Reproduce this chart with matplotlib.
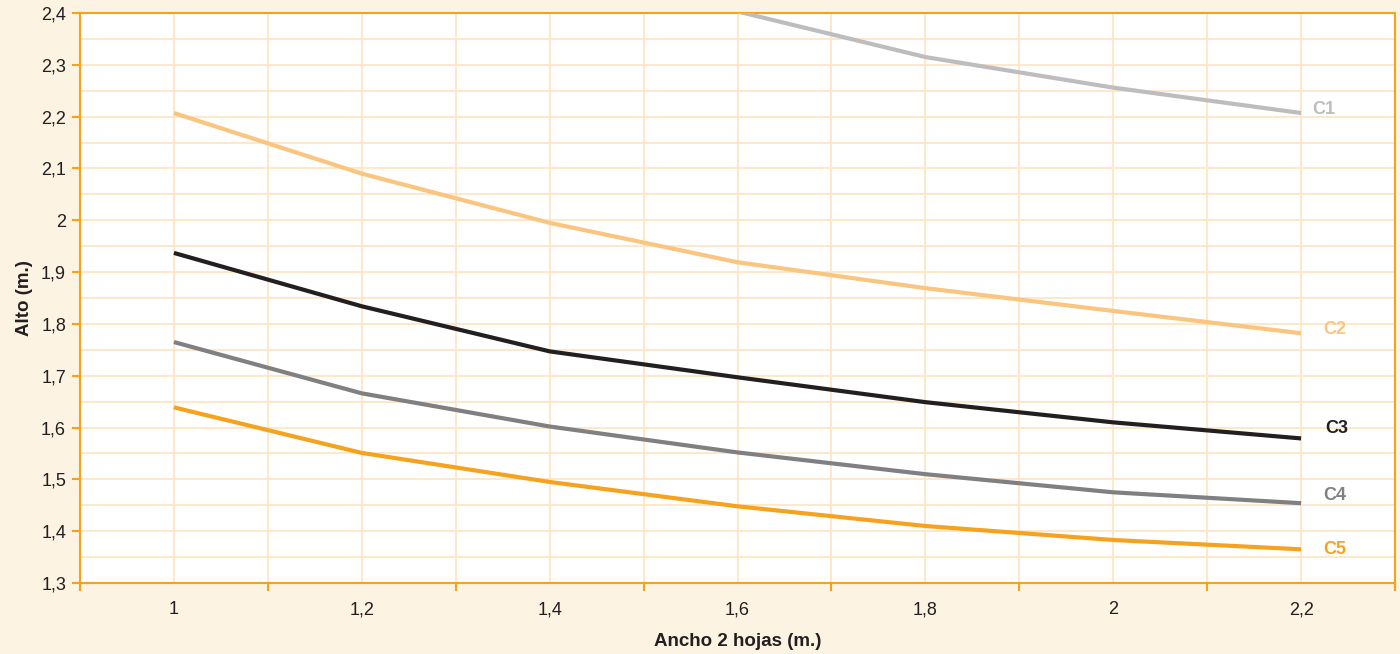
import matplotlib.pyplot as plt
import numpy as np

plt.rcParams['font.family'] = ['Liberation Sans', 'DejaVu Sans']

ancho = [1.0, 1.2, 1.4, 1.6, 1.8, 2.0, 2.2]
c1 = [2.95, 2.75, 2.56, 2.403, 2.315, 2.256, 2.207]
c2 = [2.207, 2.090, 1.995, 1.919, 1.869, 1.825, 1.782]
c3 = [1.937, 1.834, 1.747, 1.697, 1.649, 1.610, 1.579]
c4 = [1.765, 1.666, 1.602, 1.552, 1.510, 1.475, 1.454]
c5 = [1.639, 1.551, 1.495, 1.448, 1.410, 1.383, 1.365]

nombres = ['C1', 'C2', 'C3', 'C4', 'C5']
series = [c1, c2, c3, c4, c5]
colores = ['#bdbdc0', '#f9c57f', '#231f20', '#808083', '#f5a31f']
# posicion de cada etiqueta a la derecha
xlabel_pos = [2.212, 2.224, 2.226, 2.224, 2.224]
ylabel_pos = [2.214, 1.79, 1.598, 1.468, 1.364]

naranja = '#f7a21b'
fondo = '#fdf3e3'
rejilla = '#fde4c2'

fig = plt.figure(figsize=(14, 6.54), dpi=100, facecolor=fondo)
ax = fig.add_axes([80/1400, 1 - 583/654, (1395-80)/1400, (583-13)/654])
ax.set_facecolor('white')

for s, col in zip(series, colores):
    ax.plot(ancho, s, color=col, lw=3, solid_capstyle='butt', zorder=3)

for nom, col, xp, yp in zip(nombres, colores, xlabel_pos, ylabel_pos):
    ax.text(xp, yp, nom, color=col, fontsize=13, fontweight='bold', va='center', ha='left')

ax.set_xlim(0.9, 2.3)
ax.set_ylim(1.3, 2.4)

ax.set_xticks(ancho)
ax.set_xticklabels(['1', '1,2', '1,4', '1,6', '1,8', '2', '2,2'])
ax.set_xticks(np.arange(0.9, 2.31, 0.2), minor=True)
yt = np.round(np.arange(1.3, 2.41, 0.1), 1)
ax.set_yticks(yt)
ax.set_yticklabels([('%g' % v).replace('.', ',') for v in yt])
ax.set_yticks(np.arange(1.35, 2.4, 0.1), minor=True)

# rejilla
for xv in np.arange(1.0, 2.25, 0.1):
    ax.axvline(xv, color=rejilla, lw=1.2, zorder=1)
for yv in np.arange(1.35, 2.4, 0.05):
    ax.axhline(yv, color=rejilla, lw=1.2, zorder=1)

ax.tick_params(axis='x', which='major', length=0, pad=13, labelsize=13, colors='#231f20')
ax.tick_params(axis='x', which='minor', length=6, width=1.5, color=naranja)
ax.tick_params(axis='y', which='major', length=6, width=1.5, color=naranja, labelsize=13,
               labelcolor='#231f20', pad=4)
ax.tick_params(axis='y', which='minor', length=0)

for sp in ax.spines.values():
    sp.set_color(naranja)
    sp.set_linewidth(1.5)

ax.set_xlabel('Ancho 2 hojas (m.)', fontsize=13.5, fontweight='bold', color='#231f20', labelpad=11)
ax.set_ylabel('Alto (m.)', fontsize=13.5, fontweight='bold', color='#231f20', labelpad=6)

fig.savefig('out.png', dpi=100, facecolor=fondo)
